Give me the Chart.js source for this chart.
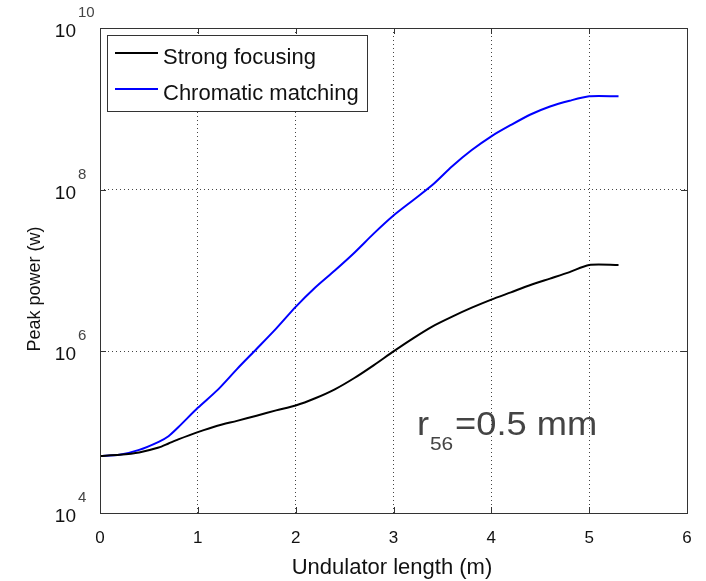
<!DOCTYPE html>
<html><head><meta charset="utf-8">
<script src="https://cdn.jsdelivr.net/npm/chart.js@4"></script>
<style>html,body{margin:0;padding:0;background:#fff}#wrap{width:706px;height:581px;position:relative}</style>
</head><body><div id="wrap"><canvas id="c"></canvas></div>
<script>
// Undulator length (m)
const lengthM = [0, 0.2, 0.4, 0.6, 0.7, 0.8, 1.0, 1.2, 1.4, 1.6, 1.8, 2.0, 2.2, 2.4, 2.6, 2.8, 3.0, 3.2, 3.4, 3.6, 3.8, 4.0, 4.2, 4.4, 4.6, 4.8, 5.0, 5.3];
// Peak power (W)
const strongFocusing = [5.08e4, 5.25e4, 5.62e4, 6.46e4, 7.24e4, 8.13e4, 1.0e5, 1.2e5, 1.38e5, 1.6e5, 1.86e5, 2.14e5, 2.63e5, 3.39e5, 4.68e5, 6.76e5, 1.0e6, 1.45e6, 2.04e6, 2.69e6, 3.47e6, 4.37e6, 5.37e6, 6.61e6, 7.94e6, 9.55e6, 1.17e7, 1.17e7];
const chromaticMatching = [5.08e4, 5.25e4, 6.03e4, 7.59e4, 8.91e4, 1.15e5, 2.0e5, 3.31e5, 6.03e5, 1.07e6, 1.91e6, 3.55e6, 6.17e6, 1.0e7, 1.66e7, 2.88e7, 4.79e7, 7.41e7, 1.15e8, 1.95e8, 3.09e8, 4.57e8, 6.31e8, 8.51e8, 1.07e9, 1.26e9, 1.43e9, 1.43e9];
const seriesLabels = ["Strong focusing", "Chromatic matching"];
const seriesColors = ["#000000", "#0000ff"];
const xTicks = [0, 1, 2, 3, 4, 5, 6];
const yTickExponents = [4, 6, 8, 10];
const yTicks = [1e4, 1e6, 1e8, 1e10];
const xTitle = "Undulator length (m)";
const yTitle = "Peak power (w)";

const FONT = "'Liberation Sans', Arial, sans-serif";

function stretchText(ctx, text, x, y, sx) {
  ctx.save();
  ctx.translate(x, y);
  ctx.scale(sx, 1);
  ctx.fillText(text, 0, 0);
  ctx.restore();
}

const decor = {
  id: 'decor',
  afterDraw(chart) {
    const ctx = chart.ctx;
    const xs = chart.scales.x, ys = chart.scales.y;
    const a = chart.chartArea;
    ctx.save();
    // box
    ctx.strokeStyle = '#333';
    ctx.lineWidth = 1;
    ctx.strokeRect(Math.round(a.left) + 0.5, Math.round(a.top) + 0.5, Math.round(a.right - a.left), Math.round(a.bottom - a.top));
    // tick marks inside
    ctx.beginPath();
    xTicks.forEach(v => {
      const px = Math.round(xs.getPixelForValue(v)) + 0.5;
      ctx.moveTo(px, a.bottom); ctx.lineTo(px, a.bottom - 6);
      ctx.moveTo(px, a.top); ctx.lineTo(px, a.top + 6);
    });
    yTicks.forEach(v => {
      const py = Math.round(ys.getPixelForValue(v)) + 0.5;
      ctx.moveTo(a.left, py); ctx.lineTo(a.left + 6, py);
      ctx.moveTo(a.right, py); ctx.lineTo(a.right - 6, py);
    });
    ctx.stroke();
    // x tick labels
    ctx.fillStyle = '#111';
    ctx.font = '17px ' + FONT;
    ctx.textAlign = 'center';
    ctx.textBaseline = 'alphabetic';
    xTicks.forEach(v => {
      ctx.fillText(String(v), xs.getPixelForValue(v), 543);
    });
    // y tick labels 10^n
    yTicks.forEach((v, i) => {
      const py = ys.getPixelForValue(v);
      ctx.font = '19px ' + FONT;
      ctx.textAlign = 'right';
      ctx.fillStyle = '#111';
      ctx.fillText('10', 76, py + 9);
      ctx.font = '15px ' + FONT;
      ctx.textAlign = 'left';
      ctx.fillStyle = '#444';
      ctx.fillText(String(yTickExponents[i]), 78, py - 11);
    });
    // titles
    ctx.fillStyle = '#111';
    ctx.font = '22px ' + FONT;
    ctx.textAlign = 'center';
    ctx.fillText(xTitle, 392, 574);
    ctx.save();
    ctx.translate(40, 289);
    ctx.rotate(-Math.PI / 2);
    ctx.font = '18px ' + FONT;
    ctx.fillText(yTitle, 0, 0);
    ctx.restore();
    // legend
    ctx.fillStyle = '#fff';
    ctx.fillRect(107, 35, 260, 76);
    ctx.strokeStyle = '#333';
    ctx.lineWidth = 1;
    ctx.strokeRect(107.5, 35.5, 260, 76);
    const rows = [53, 89];
    ctx.font = '22px ' + FONT;
    ctx.textAlign = 'left';
    chart.data.datasets.forEach((ds, i) => {
      ctx.strokeStyle = ds.borderColor;
      ctx.lineWidth = 2;
      ctx.beginPath();
      ctx.moveTo(115, rows[i]); ctx.lineTo(158, rows[i]);
      ctx.stroke();
      ctx.fillStyle = '#111';
      ctx.fillText(ds.label, 163, rows[i] + 11);
    });
    // annotation r56=0.5 mm
    ctx.fillStyle = '#444';
    ctx.textAlign = 'left';
    ctx.font = '33px ' + FONT;
    stretchText(ctx, 'r', 417, 435, 1.1);
    ctx.font = '19px ' + FONT;
    stretchText(ctx, '56', 430, 450, 1.1);
    ctx.font = '33px ' + FONT;
    stretchText(ctx, '=0.5 mm', 455, 435, 1.1);
    ctx.restore();
  }
};

new Chart(document.getElementById('c'), {
  type: 'line',
  data: {
    datasets: [
      { label: seriesLabels[0], data: lengthM.map((x, i) => ({ x, y: strongFocusing[i] })), borderColor: seriesColors[0], borderWidth: 2, pointRadius: 0, tension: 0.25, fill: false },
      { label: seriesLabels[1], data: lengthM.map((x, i) => ({ x, y: chromaticMatching[i] })), borderColor: seriesColors[1], borderWidth: 2, pointRadius: 0, tension: 0.25, fill: false }
    ]
  },
  options: {
    responsive: true,
    maintainAspectRatio: false,
    animation: false,
    devicePixelRatio: 1,
    layout: { padding: { left: 100, top: 28, right: 19, bottom: 68 } },
    plugins: { legend: { display: false }, tooltip: { enabled: false } },
    scales: {
      x: {
        type: 'linear', min: 0, max: 6,
        afterBuildTicks: s => { s.ticks = xTicks.map(v => ({ value: v })); },
        afterFit: s => { s.height = 0; },
        ticks: { display: false },
        grid: { drawTicks: false, color: '#444', lineWidth: 1 },
        border: { display: false, dash: [1, 3] }
      },
      y: {
        type: 'logarithmic', min: 1e4, max: 1e10,
        afterBuildTicks: s => { s.ticks = yTicks.map(v => ({ value: v })); },
        afterFit: s => { s.width = 0; },
        ticks: { display: false },
        grid: { drawTicks: false, color: '#444', lineWidth: 1 },
        border: { display: false, dash: [1, 3] }
      }
    }
  },
  plugins: [decor]
});
</script>
</body></html>
